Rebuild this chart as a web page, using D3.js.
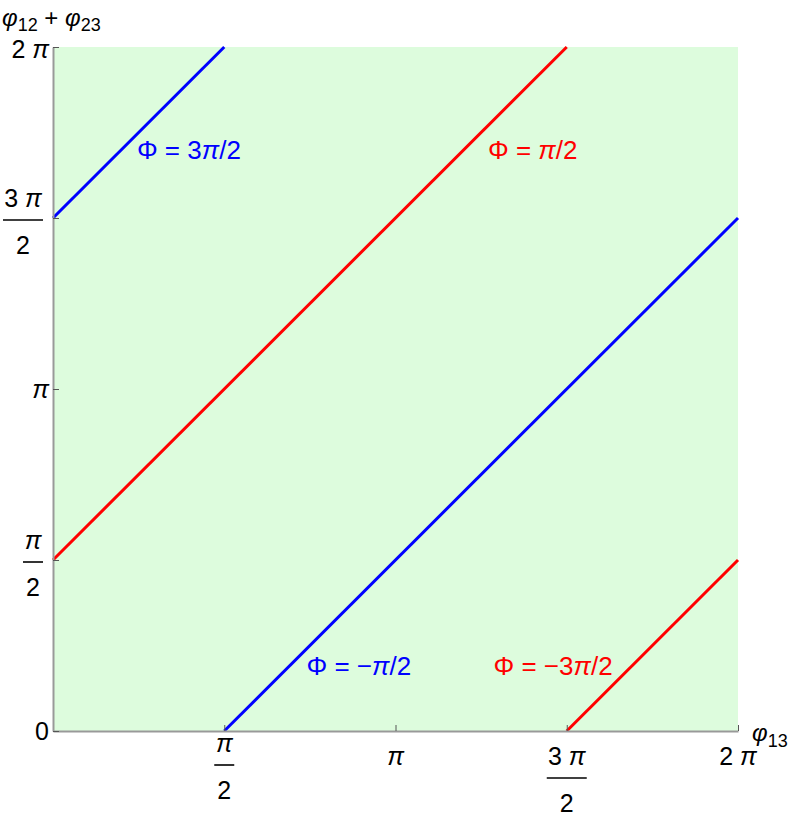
<!DOCTYPE html>
<html>
<head>
<meta charset="utf-8">
<script src="https://cdn.jsdelivr.net/npm/d3@7"></script>
<style>
  body { margin: 0; background: #fff; }
  svg text { font-family: "Liberation Sans", Arial, Helvetica, sans-serif; }
</style>
</head>
<body>
<div id="graph"></div>
<script>
// values in units of pi
const tickValues = [0, 0.5, 1, 1.5, 2];
const tickNum = ["0", "π", "π", "3 π", "2 π"];
const tickDen = [null, "2", null, "2", null];

// line segments: [x1, y1, x2, y2] in units of pi
const segments = [
  [0, 1.5, 0.5, 2],
  [0, 0.5, 1.5, 2],
  [0.5, 0, 2, 1.5],
  [1.5, 0, 2, 0.5]
];
const segColors = ["#0000ff", "#ff0000", "#0000ff", "#ff0000"];

const labelText = ["3π/2", "π/2", "−π/2", "−3π/2"];
const labelX = [0.245, 1.27, 0.74, 1.286];
const labelY = [1.672, 1.672, 0.165, 0.165];
const labelColor = ["#0000ff", "#ff0000", "#0000ff", "#ff0000"];

const margin = {top: 47, right: 55, bottom: 86, left: 53},
  width = 793 - margin.left - margin.right,
  height = 817 - margin.top - margin.bottom;

const svg = d3.select("#graph").append("svg")
  .attr("width", 793)
  .attr("height", 817)
  .append("g")
  .attr("transform", "translate(" + margin.left + "," + margin.top + ")");

const x = d3.scaleLinear().domain([0, 2]).range([0, width]);
const y = d3.scaleLinear().domain([0, 2]).range([height, 0]);

svg.append("rect")
  .attr("width", width)
  .attr("height", height)
  .attr("fill", "#ddfcdd");

svg.selectAll("line.seg")
  .data(segments)
  .enter().append("line")
  .attr("class", "seg")
  .attr("x1", d => x(d[0]))
  .attr("y1", d => y(d[1]))
  .attr("x2", d => x(d[2]))
  .attr("y2", d => y(d[3]))
  .attr("stroke", (d, i) => segColors[i])
  .attr("stroke-width", 3);

// axes (ticks point inward)
const xAxis = svg.append("g").attr("transform", "translate(0," + height + ")")
  .call(d3.axisBottom(x).tickValues(tickValues).tickSizeInner(-6).tickSizeOuter(0).tickFormat(""));
const yAxis = svg.append("g")
  .call(d3.axisLeft(y).tickValues(tickValues).tickSizeInner(-6).tickSizeOuter(0).tickFormat(""));
[xAxis, yAxis].forEach(a => {
  a.select(".domain").attr("stroke", "#999").attr("stroke-width", 2);
  a.selectAll(".tick line").attr("stroke", "#555");
});

function piText(sel, str) {
  // pi drawn in italics
  str.split(/(π)/).forEach(part => {
    if (!part) return;
    const t = sel.append("tspan").text(part);
    if (part === "π") t.attr("font-style", "italic");
  });
}

// fraction: numerator baseline at 0, bar at +13, denominator baseline at +47
function fraction(g, num, den, cx) {
  const t = g.append("text").attr("text-anchor", "middle").attr("x", cx);
  piText(t, num);
  const half = num.length > 1 ? 20 : 10;
  g.append("line").attr("x1", cx - half).attr("x2", cx + half)
    .attr("y1", 13).attr("y2", 13)
    .attr("stroke", "#000").attr("stroke-width", 1.6);
  g.append("text").attr("text-anchor", "middle").attr("x", cx).attr("y", 47).text(den);
}

// x tick labels
tickValues.forEach((v, i) => {
  if (i === 0) return;
  const up = (tickDen[i] !== null && tickNum[i] === "π") ? 13 : 0;
  const g = svg.append("g").attr("font-size", 25)
    .attr("transform", "translate(" + x(v) + "," + (height + 34 - up) + ")");
  if (tickDen[i] === null) {
    const t = g.append("text").attr("text-anchor", "middle");
    piText(t, tickNum[i]);
  } else {
    fraction(g, tickNum[i], tickDen[i], 0);
  }
});

// y tick labels
tickValues.forEach((v, i) => {
  const g = svg.append("g").attr("font-size", 25);
  if (tickDen[i] === null) {
    g.attr("transform", "translate(-4," + (y(v) + (i === 4 ? 2 : 0)) + ")");
    const t = g.append("text").attr("text-anchor", "end").attr("dy", "0.35em");
    piText(t, tickNum[i]);
  } else {
    g.attr("transform", "translate(-10," + (y(v) - 11) + ")");
    const half = tickNum[i].length > 1 ? 20 : 10;
    fraction(g, tickNum[i], tickDen[i], -half);
  }
});

// axis titles
const yt = svg.append("text").attr("x", -51).attr("y", -21).attr("font-size", 24);
yt.append("tspan").attr("font-style", "italic").text("φ");
yt.append("tspan").attr("font-size", 18).attr("dy", 5).text("12");
yt.append("tspan").attr("dy", -5).text(" + ");
yt.append("tspan").attr("font-style", "italic").text("φ");
yt.append("tspan").attr("font-size", 18).attr("dy", 5).text("23");

const xt = svg.append("text").attr("x", width + 14).attr("y", height + 10).attr("font-size", 24);
xt.append("tspan").attr("font-style", "italic").text("φ");
xt.append("tspan").attr("font-size", 18).attr("dy", 6).text("13");

// line labels
labelText.forEach((s, i) => {
  const t = svg.append("text")
    .attr("x", x(labelX[i]))
    .attr("y", y(labelY[i]))
    .attr("font-size", 26)
    .attr("fill", labelColor[i]);
  t.append("tspan").text("Φ = ");
  piText(t, s);
});
</script>
</body>
</html>
